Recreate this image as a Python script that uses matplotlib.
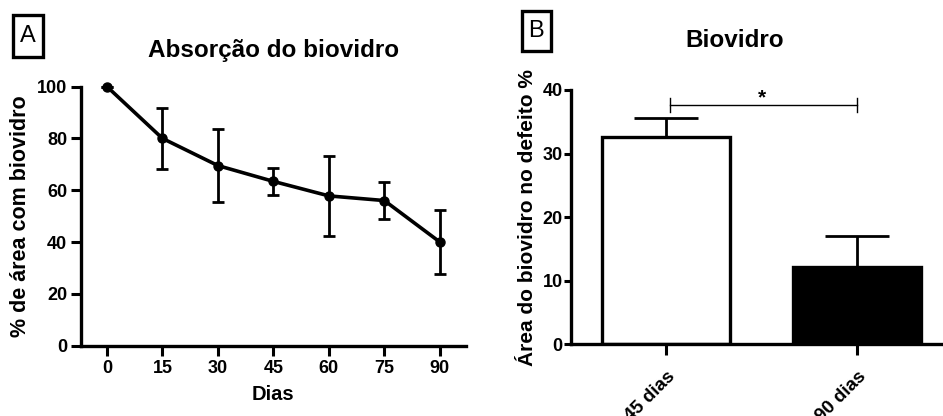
import numpy as np
import matplotlib.pyplot as plt
from matplotlib.patches import Rectangle

plt.rcParams['font.family'] = ['Liberation Sans', 'DejaVu Sans']
plt.rcParams['font.weight'] = 'bold'

# painel A - absorcao ao longo do tempo
dias = [0, 15, 30, 45, 60, 75, 90]
area_pct = [100, 80, 69.5, 63.4, 57.8, 56.0, 40.0]
area_err = [0, 11.7, 14.0, 5.2, 15.5, 7.0, 12.2]

# painel B - barras
grupos = ['45 dias', '90 dias']
area_defeito = [32.6, 12.1]
area_defeito_err = [3.0, 5.0]
cores = ['white', 'black']

fig = plt.figure(figsize=(9.43, 4.16), dpi=100)

axA = fig.add_axes([0.0859, 0.169, 0.408, 0.623])
axA.errorbar(dias, area_pct, yerr=area_err, color='black', lw=2.6, marker='o',
             ms=6.5, capsize=4.2, capthick=2, elinewidth=2, clip_on=False, zorder=3)
axA.set_xlim(-7, 97)
axA.set_ylim(0, 100)
axA.set_xticks(dias)
axA.set_yticks([0, 20, 40, 60, 80, 100])
for s in ['top', 'right']:
    axA.spines[s].set_visible(False)
for s in ['left', 'bottom']:
    axA.spines[s].set_linewidth(2.4)
axA.tick_params(width=2.2, length=7, labelsize=13, pad=3)
for lab in axA.get_xticklabels() + axA.get_yticklabels():
    lab.set_fontweight('bold')
axA.set_xlabel('Dias', fontsize=14.5, fontweight='bold', labelpad=6)
axA.set_ylabel('% de área com biovidro', fontsize=15.5, fontweight='bold', labelpad=4)
axA.set_title('Absorção do biovidro', fontsize=17.5, fontweight='bold', pad=21)

axB = fig.add_axes([0.6055, 0.1724, 0.3945, 0.6113])
x = np.arange(len(grupos))
axB.bar(x, area_defeito, width=0.67, color=cores, edgecolor='black', lw=2.4, zorder=2)
axB.errorbar(x, area_defeito, yerr=[np.zeros(2), area_defeito_err], fmt='none',
             ecolor='black', elinewidth=2, capsize=23, capthick=2, zorder=1)
axB.set_xlim(-0.5, 1.45)
axB.set_ylim(0, 40)
axB.set_xticks(x)
axB.set_xticklabels(grupos, rotation=45, ha='right', rotation_mode='anchor')
axB.set_yticks([0, 10, 20, 30, 40])
for s in ['top', 'right']:
    axB.spines[s].set_visible(False)
for s in ['left', 'bottom']:
    axB.spines[s].set_linewidth(2.4)
axB.tick_params(axis='y', width=2.2, length=5, labelsize=13, pad=1)
axB.tick_params(axis='x', width=2.2, length=8, labelsize=13.5, pad=9)
for lab in axB.get_xticklabels() + axB.get_yticklabels():
    lab.set_fontweight('bold')
    lab.set_x(lab.get_position()[0])
axB.set_ylabel('Área do biovidro no defeito %', fontsize=15, fontweight='bold', labelpad=4)
axB.set_title('Biovidro', fontsize=17.5, fontweight='bold', pad=31, x=0.44)

# barra de significancia
yb = 37.7
axB.plot([0.02, 1.0], [yb, yb], color='black', lw=1)
axB.plot([0.02, 0.02], [yb - 1.1, yb + 1.1], color='black', lw=1)
axB.plot([1.0, 1.0], [yb - 1.1, yb + 1.1], color='black', lw=1)
axB.text(0.5, yb + 1.1, '*', ha='center', va='center', fontsize=15, fontweight='bold')

# letras dos paineis
for lbl, (x0, y0, w, h) in [('A', (12.5, 15, 30, 42)), ('B', (521.5, 11, 29, 40))]:
    fig.text((x0 + w / 2) / 943, 1 - (y0 + h / 2) / 416, lbl, ha='center', va='center',
             fontsize=17, fontweight='normal')
    fig.patches.append(Rectangle((x0 / 943, 1 - (y0 + h) / 416), w / 943, h / 416,
                                 transform=fig.transFigure, fill=False, lw=2.4, ec='black'))

fig.savefig('out.png', dpi=100)
